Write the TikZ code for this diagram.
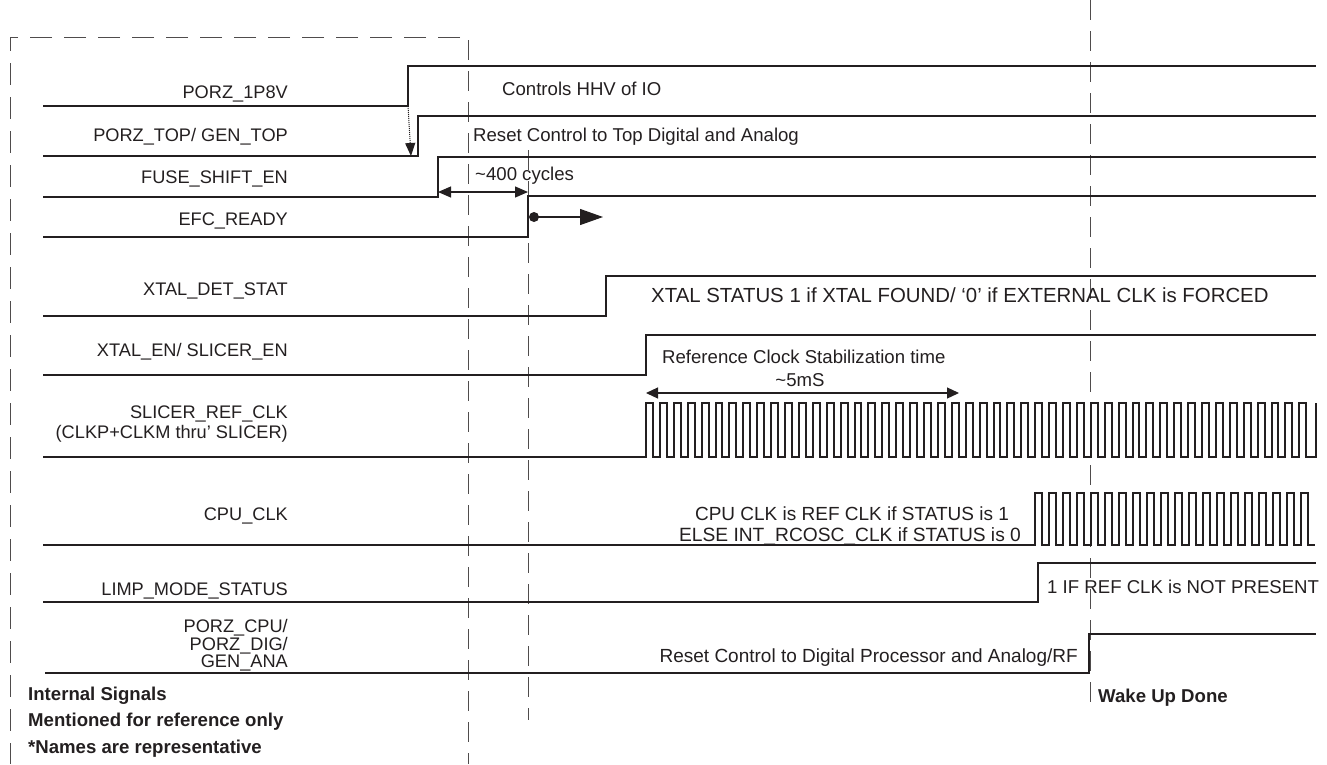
\documentclass[tikz,border=0pt]{standalone}
\usepackage{fontspec}
\setmainfont{Liberation Sans}
\usetikzlibrary{arrows.meta}
\definecolor{ink}{HTML}{231F20}
\newcommand{\fs}[1]{\fontsize{#1}{20}\selectfont}
\begin{document}
\begin{tikzpicture}[x=1pt,y=-1pt,
  sig/.style={line width=2.4pt, line join=miter, ink},
  clk/.style={line width=2pt, line join=miter, ink},
  lbl/.style={anchor=base east, inner sep=0pt, text=ink, font=\fs{18.2}},
  txt/.style={anchor=base west, inner sep=0pt, text=ink, font=\fs{18.6}},
  txtc/.style={anchor=base, inner sep=0pt, text=ink, font=\fs{18.6}},
  bld/.style={anchor=base west, inner sep=0pt, text=ink, font=\fs{18.6}\bfseries},
  guide/.style={line width=1pt, dash pattern=on 20pt off 11pt, ink!80},
  boxline/.style={line width=1pt, dash pattern=on 22pt off 12pt, ink!80},
]
\useasboundingbox (0,0) rectangle (1327,764);

% guide lines
\draw[boxline] (460,37) -- (10,37) -- (10,764);
\draw[guide] (468,40) -- (468,764);
\draw[guide] (528,150) -- (528,720);
\draw[guide] (1090,0) -- (1090,712);

% labels
\node[lbl] (l1) at (288,98) {PORZ\_1P8V};
\node[lbl] (l2) at (288,141) {PORZ\_TOP/ GEN\_TOP};
\node[lbl] (l3) at (288,183) {FUSE\_SHIFT\_EN};
\node[lbl] (l4) at (288,225) {EFC\_READY};
\node[lbl] (l5) at (288,295) {XTAL\_DET\_STAT};
\node[lbl] (l6) at (288,356) {XTAL\_EN/ SLICER\_EN};
\node[lbl] (l7a) at (288,418) {SLICER\_REF\_CLK};
\node[lbl] (l7b) at (288,438) {(CLKP+CLKM thru' SLICER)};
\node[lbl] (l8) at (288,520) {CPU\_CLK};
\node[lbl] (l9) at (288,595) {LIMP\_MODE\_STATUS};
\node[lbl] (l10a) at (288,632) {PORZ\_CPU/};
\node[lbl] (l10b) at (288,650) {PORZ\_DIG/};
\node[lbl] (l10c) at (288,667) {GEN\_ANA};

\node[bld] (n1) at (28,700) {Internal Signals};
\node[bld] (n2) at (28,726) {Mentioned for reference only};
\node[bld] (n3) at (28,753) {*Names are representative};

% signals
\draw[sig] (43,106) -- (408,106) -- (408,66) -- (1316,66);
\draw[sig] (43,156) -- (418,156) -- (418,116) -- (1316,116);
\draw[sig] (43,197) -- (438,197) -- (438,157) -- (1316,157);
\draw[sig] (43,237) -- (528,237) -- (528,196) -- (1316,196);
\draw[sig] (43,316) -- (606,316) -- (606,276) -- (1316,276);
\draw[sig] (43,375) -- (646,375) -- (646,335) -- (1316,335);
\draw[sig] (43,602) -- (1038,602) -- (1038,563) -- (1316,563);
\draw[sig] (45,673) -- (1089,673) -- (1089,634) -- (1316,634);

% clocks
\draw[clk] (43,457) -- (646,457)
  foreach \i in {1,...,48} { -- ++(0,-54) -- ++(6.95,0) -- ++(0,54) -- ++(6.95,0) }
  -- (1316,457) -- (1316,403);
\draw[clk] (43,545) -- (1035,545)
  foreach \i in {1,...,20} { -- ++(0,-52) -- ++(7,0) -- ++(0,52) -- ++(7,0) };

% texts on the right
\node[txt] (t1) at (502,95) {Controls HHV of IO};
\node[txt] (t2) at (473,141) {Reset Control to Top Digital and Analog};
\node[txt] (t3) at (475,180) {\textasciitilde400 cycles};
\node[txt, font=\fs{20.4}] (t5) at (651,302) {XTAL STATUS 1 if XTAL FOUND/ ‘0’ if EXTERNAL CLK is FORCED};
\node[txt] (t6) at (662,363) {Reference Clock Stabilization time};
\node[txtc] (t6b) at (800,386) {\textasciitilde5mS};
\node[txtc, font=\fs{19}] (t8a) at (852,520) {CPU CLK is REF CLK if STATUS is 1};
\node[txtc, font=\fs{19.2}] (t8b) at (850,541) {ELSE INT\_RCOSC\_CLK if STATUS is 0};
\node[txt] (t9) at (1047,593) {1 IF REF CLK is NOT PRESENT};
\node[txt, anchor=base east, font=\fs{19}] (t10) at (1078,662) {Reset Control to Digital Processor and Analog/RF};
\node[bld] (wd) at (1098,702) {Wake Up Done};

% arrows
\coordinate (e1) at (408,106);
\coordinate (e2) at (411,156);
\draw[ink, line width=1pt, densely dotted, -{Triangle[length=13pt,width=10pt]}] (e1) -- (e2);

\coordinate (c1) at (438,192);
\coordinate (c2) at (528,192);
\draw[ink, line width=1.2pt, {Triangle[length=13pt,width=11pt]}-{Triangle[length=13pt,width=11pt]}] (c1) -- (c2);

\coordinate (d0) at (534,217);
\coordinate (d1) at (603,217);
\fill[ink] (d0) circle (5pt);
\draw[ink, line width=1.2pt, -{Triangle[length=23pt,width=16pt]}] (d0) -- (d1);

\coordinate (s1) at (646,393);
\coordinate (s2) at (959,393);
\draw[ink, line width=1.2pt, {Triangle[length=12pt,width=11pt]}-{Triangle[length=12pt,width=11pt]}] (s1) -- (s2);
\end{tikzpicture}
\end{document}
